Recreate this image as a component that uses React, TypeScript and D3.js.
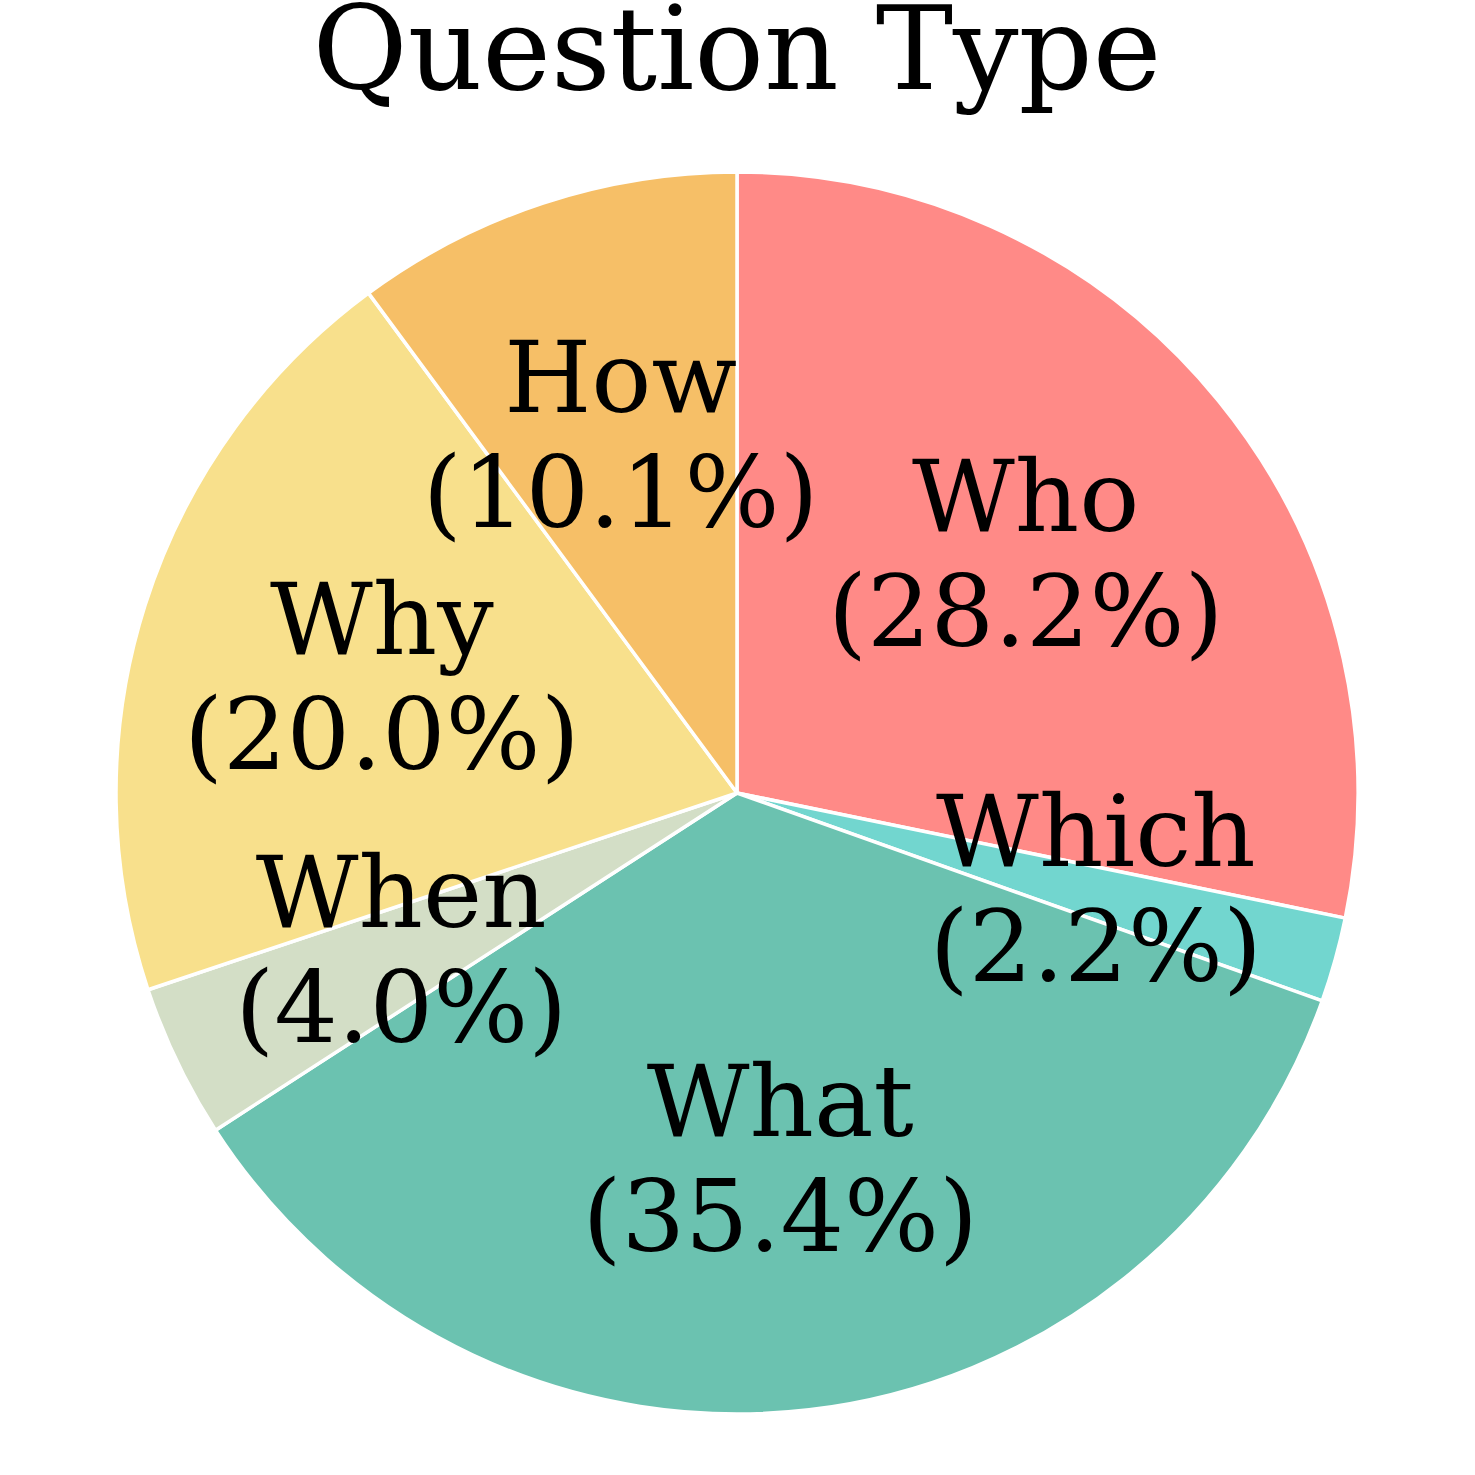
import * as d3 from "d3";

const categories = ["Who", "Which", "What", "When", "Why", "How"];
const shares = [28.2, 2.2, 35.4, 4.0, 20.0, 10.1];
const colors = ["#FF8A87", "#72D6CF", "#6BC2B0", "#D3DEC6", "#F8E08C", "#F6BF67"];

export default function App({
  width = 1475,
  height = 1475,
  cx = 737,
  cy = 793,
  radius = 621,
}) {
  const pie = d3
    .pie<number>()
    .sort(null)
    .value((d) => d)
    .startAngle(0)
    .endAngle(2 * Math.PI);
  const arcs = pie(shares);

  const arc = d3.arc<d3.PieArcDatum<number>>().innerRadius(0).outerRadius(radius);
  const labelArc = d3
    .arc<d3.PieArcDatum<number>>()
    .innerRadius(radius * 0.6)
    .outerRadius(radius * 0.6);

  return (
    <svg
      width={width}
      height={height}
      style={{ position: "absolute", left: 0, top: 0, background: "white" }}
      fontFamily="'DejaVu Serif', serif"
    >
      <text x={cx} y={89} textAnchor="middle" fontSize={116}>
        Question Type
      </text>
      <g transform={`translate(${cx}, ${cy})`}>
        {arcs.map((a, i) => (
          <path
            key={categories[i]}
            d={arc(a) ?? ""}
            fill={colors[i]}
            stroke="white"
            strokeWidth={3.5}
            strokeLinejoin="round"
          />
        ))}
        {arcs.map((a, i) => {
          const [lx, ly] = labelArc.centroid(a);
          return (
            <text key={`l-${categories[i]}`} textAnchor="middle" fontSize={100}>
              <tspan x={lx} y={ly - 27}>
                {categories[i]}
              </tspan>
              <tspan x={lx} y={ly + 88}>
                {`(${shares[i].toFixed(1)}%)`}
              </tspan>
            </text>
          );
        })}
      </g>
    </svg>
  );
}
